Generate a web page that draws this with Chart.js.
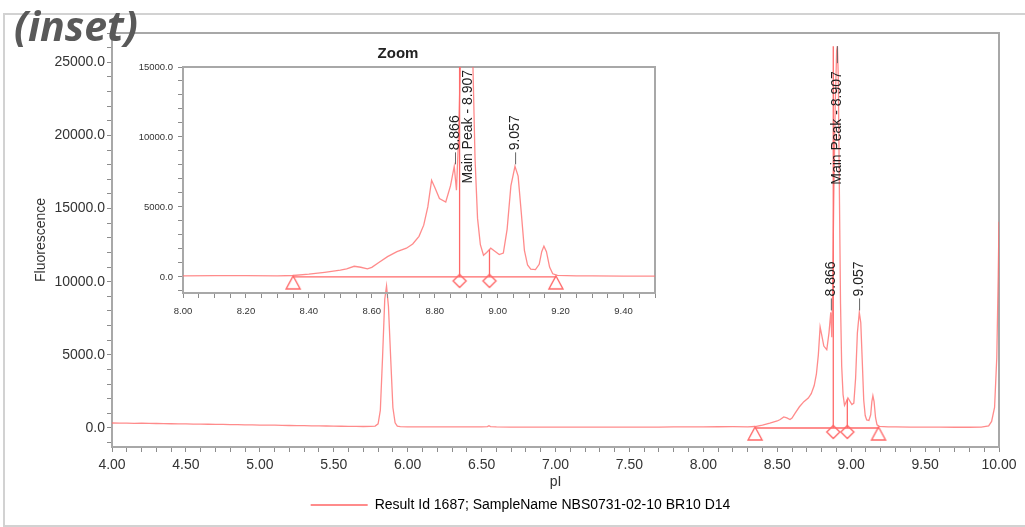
<!DOCTYPE html>
<html><head><meta charset="utf-8">
<script src="https://cdn.jsdelivr.net/npm/chart.js@4.4.1/dist/chart.umd.min.js"></script>
<style>
html,body{margin:0;padding:0;background:#fff;width:1025px;height:527px;overflow:hidden;position:relative;}
#frame{position:absolute;left:3px;top:13px;width:1060px;height:514px;border:2px solid #d2d2d2;border-right:none;box-sizing:border-box;}
#main{position:absolute;left:0;top:0;}
#inset{position:absolute;left:130px;top:36px;}
#tag{position:absolute;left:14px;top:1px;font-family:'Open Sans',sans-serif;font-style:italic;font-weight:700;font-size:41px;line-height:1.2;color:#595959;}
</style></head><body>
<div id="frame"></div>
<canvas id="main" width="1025" height="527"></canvas>
<canvas id="inset" width="536" height="290"></canvas>
<div id="tag">(inset)</div>
<script>
// ---------------- data ----------------
const pI = [4.00,4.05,4.10,4.15,4.20,4.25,4.30,4.35,4.40,4.45,4.50,4.55,4.60,4.65,4.70,4.75,4.80,4.85,4.90,4.95,
  5.00,5.05,5.10,5.15,5.20,5.25,5.30,5.35,5.40,5.45,5.50,5.55,5.60,5.65,5.70,5.75,5.78,5.80,5.815,5.83,5.845,5.857,
  5.87,5.885,5.90,5.915,5.93,5.95,6.00,6.10,6.20,6.30,6.40,6.50,6.54,6.55,6.56,6.60,6.70,6.80,6.90,7.00,7.10,7.20,
  7.30,7.40,7.50,7.60,7.70,7.80,7.90,8.00,8.10,8.20,8.30,8.35,8.40,8.45,8.50,8.52,8.544,8.565,8.586,8.60,8.62,8.65,
  8.68,8.71,8.73,8.75,8.765,8.778,8.79,8.80,8.815,8.835,8.85,8.862,8.869,8.875,8.882,8.892,8.902,8.907,8.913,8.920,
  8.928,8.936,8.945,8.955,8.965,8.978,8.99,9.005,9.018,9.03,9.042,9.055,9.065,9.075,9.085,9.095,9.105,9.12,9.132,
  9.14,9.147,9.155,9.165,9.175,9.19,9.25,9.30,9.40,9.50,9.60,9.70,9.80,9.88,9.93,9.95,9.97,9.985,9.995,10.00];
const fluorescence = [340,330,335,320,325,310,305,300,290,285,275,270,260,255,245,240,230,225,215,210,
  200,195,190,180,170,165,160,150,140,135,125,120,110,105,100,105,130,280,1200,4800,8800,9700,
  8300,4800,1400,350,130,90,80,75,70,70,70,75,90,150,90,70,65,60,60,60,60,60,
  60,60,60,60,65,70,75,80,85,90,80,100,200,330,480,580,760,690,580,680,1000,1450,
  1800,2050,2350,2900,3700,5000,6900,6400,5600,5350,6500,7900,6200,9500,15500,22000,25800,26100,24000,16500,
  8500,4200,2300,1550,1750,2050,1850,1600,1700,3400,6500,7900,7200,4600,1900,850,550,520,900,
  1800,2200,1800,700,220,110,80,70,60,60,55,50,50,60,150,450,1400,4800,10500,14100];
const seriesName = 'Result Id 1687; SampleName NBS0731-02-10 BR10 D14';
const peakLabelX = [8.866, 8.907, 9.057];
const peakLabelText = ['8.866', 'Main Peak - 8.907', '9.057'];
const dropLineX = [8.879, 8.974];
const dropLineTop = [26100, 1950];
const boundaryX = [8.35, 9.185];
const mainXTickLabels = ['4.00','4.50','5.00','5.50','6.00','6.50','7.00','7.50','8.00','8.50','9.00','9.50','10.00'];
const mainYTickLabels = ['0.0','5000.0','10000.0','15000.0','20000.0','25000.0'];
const insetXTickLabels = ['8.00','8.20','8.40','8.60','8.80','9.00','9.20','9.40'];
const insetYTickLabels = ['0.0','5000.0','10000.0','15000.0'];

// ---------------- styling ----------------
const FONT = "'Liberation Sans', Arial, sans-serif";
const TRACE = 'rgba(255,110,110,0.8)';
const MARK = '#ff6868';
const AXIS = '#a8a8a8';
const TICK = '#8c8c8c';
const TEXT = '#333';

function markerImage(kind) {
  const c = document.createElement('canvas');
  c.width = 24; c.height = 40;
  const g = c.getContext('2d');
  g.strokeStyle = MARK; g.fillStyle = '#fff'; g.lineWidth = 1.4;
  const cx = 12, cy = 20;
  g.beginPath();
  if (kind === 'triangle') {
    g.moveTo(cx, cy - 1); g.lineTo(cx + 7, cy + 12); g.lineTo(cx - 7, cy + 12);
  } else {
    g.moveTo(cx, cy - 2.5); g.lineTo(cx + 6.5, cy + 4); g.lineTo(cx, cy + 10.5); g.lineTo(cx - 6.5, cy + 4);
  }
  g.closePath(); g.fill(); g.stroke();
  return c;
}
const triImg = markerImage('triangle');
const diaImg = markerImage('diamond');

function buildDatasets() {
  const line = {showLine: true, pointRadius: 0, pointHoverRadius: 0, borderWidth: 1.3, fill: false};
  return [
    Object.assign({label: seriesName, data: pI.map((x, i) => ({x, y: fluorescence[i]})), borderColor: TRACE, backgroundColor: TRACE}, line),
    Object.assign({label: 'baseline', data: boundaryX.map(x => ({x, y: 0})), borderColor: MARK}, line),
    ...dropLineX.map((x, i) => Object.assign({label: 'drop', data: [{x, y: 0}, {x, y: dropLineTop[i]}], borderColor: MARK}, line)),
    {label: 'bounds', data: boundaryX.map(x => ({x, y: 0})), showLine: false, pointStyle: triImg, pointRadius: 10, pointHoverRadius: 10},
    {label: 'valleys', data: dropLineX.map(x => ({x, y: 0})), showLine: false, pointStyle: diaImg, pointRadius: 10, pointHoverRadius: 10}
  ];
}

function tickedAxis(position, min, max, step, labels, o) {
  const majors = labels.map(parseFloat);
  return {
    type: 'linear', position, min, max,
    afterBuildTicks: s => {
      const t = [];
      for (let k = Math.ceil(min / step - 1e-9); k * step <= max + 1e-9; k++) t.push({value: +(k * step).toFixed(6)});
      s.ticks = t;
    },
    ticks: {
      autoSkip: false, maxRotation: 0, minRotation: 0, padding: o.pad, color: TEXT,
      font: {family: FONT, size: o.size},
      callback: v => { const i = majors.findIndex(m => Math.abs(m - v) < 1e-6); return i >= 0 ? labels[i] : ''; }
    },
    grid: {display: true, drawOnChartArea: false, drawTicks: true, tickLength: 5, color: TICK, lineWidth: 1},
    border: {display: true, color: AXIS, width: 2},
    title: o.title || {display: false},
    afterFit: o.fit
  };
}
function frameAxis(position, min, max, fit) {
  return {type: 'linear', position, min, max, display: true,
    grid: {display: false, drawTicks: false}, ticks: {display: false},
    border: {display: true, color: AXIS, width: 2}, afterFit: fit};
}

function peakValue(x) {
  let best = -Infinity;
  pI.forEach((p, i) => { if (Math.abs(p - x) <= 0.006 && fluorescence[i] > best) best = fluorescence[i]; });
  return best;
}

const peakLabels = {
  id: 'peakLabels',
  afterDatasetsDraw(chart) {
    const {ctx, chartArea, scales: {x, y}} = chart;
    ctx.save();
    ctx.font = '14px ' + FONT;
    ctx.fillStyle = '#222';
    ctx.strokeStyle = '#666';
    ctx.lineWidth = 1;
    peakLabelX.forEach((px, i) => {
      const text = peakLabelText[i];
      const w = ctx.measureText(text).width;
      const X = x.getPixelForValue(px);
      const Y = y.getPixelForValue(peakValue(px));
      let textBottom;
      if (Y < chartArea.top) {
        textBottom = chartArea.top + 3 + w;
      } else if (Y - 16 - w < chartArea.top) {
        ctx.beginPath(); ctx.moveTo(X, Y); ctx.lineTo(X, Y + 17); ctx.stroke();
        textBottom = Y + 25 + w;
      } else {
        ctx.beginPath(); ctx.moveTo(X, Y - 2); ctx.lineTo(X, Y - 14); ctx.stroke();
        textBottom = Y - 16;
      }
      ctx.save();
      ctx.translate(X, textBottom);
      ctx.rotate(-Math.PI / 2);
      ctx.textAlign = 'left';
      ctx.textBaseline = 'middle';
      ctx.fillText(text, 0, 0);
      ctx.restore();
    });
    ctx.restore();
  }
};

// ---------------- main chart ----------------
new Chart(document.getElementById('main'), {
  type: 'scatter',
  data: {datasets: buildDatasets()},
  options: {
    responsive: false, animation: false, events: [],
    layout: {padding: {top: 33, right: 0, bottom: 5, left: 16}},
    scales: {
      x: tickedAxis('bottom', 4, 10, 0.1, mainXTickLabels, {
        pad: 5, size: 14, fit: s => { s.height = 41; },
        title: {display: true, text: 'pI', color: TEXT, font: {family: FONT, size: 14}, padding: {top: 0, bottom: -3}}
      }),
      y: tickedAxis('left', -1300, 27000, 1000, mainYTickLabels, {
        pad: 2, size: 14, fit: s => { s.width = 96; },
        title: {display: true, text: 'Fluorescence', color: TEXT, font: {family: FONT, size: 14}, padding: {top: 17, bottom: 0}}
      }),
      x2: frameAxis('top', 4, 10, s => { s.height = 0; }),
      y2: frameAxis('right', -1300, 27000, s => { s.width = 26; })
    },
    plugins: {
      legend: {
        display: true, position: 'bottom',
        labels: {
          boxWidth: 57, boxHeight: 2, padding: 10, color: TEXT, font: {family: FONT, size: 14},
          filter: item => item.datasetIndex === 0,
          generateLabels: chart => [{text: seriesName, fillStyle: TRACE, strokeStyle: TRACE, lineWidth: 0, datasetIndex: 0, hidden: false}]
        }
      },
      tooltip: {enabled: false}
    }
  },
  plugins: [peakLabels]
});

// ---------------- inset chart ----------------
new Chart(document.getElementById('inset'), {
  type: 'scatter',
  data: {datasets: buildDatasets()},
  options: {
    responsive: false, animation: false, events: [],
    layout: {padding: {top: 0, right: 0, bottom: 0, left: 0}},
    scales: {
      x: tickedAxis('bottom', 8.0, 9.5, 0.05, insetXTickLabels, {pad: 8, size: 9.5, fit: s => { s.height = 33; }}),
      y: tickedAxis('left', -1150, 15000, 1000, insetYTickLabels, {pad: 5, size: 9.5, fit: s => { s.width = 53; }}),
      x2: frameAxis('top', 8.0, 9.5, s => { s.height = 0; }),
      y2: frameAxis('right', -1150, 15000, s => { s.width = 10; })
    },
    plugins: {
      legend: {display: false},
      tooltip: {enabled: false},
      title: {display: true, text: 'Zoom', color: '#222', font: {family: FONT, size: 15, weight: 'bold'}, padding: {top: 9, bottom: 4}}
    }
  },
  plugins: [peakLabels]
});
</script>
</body></html>
